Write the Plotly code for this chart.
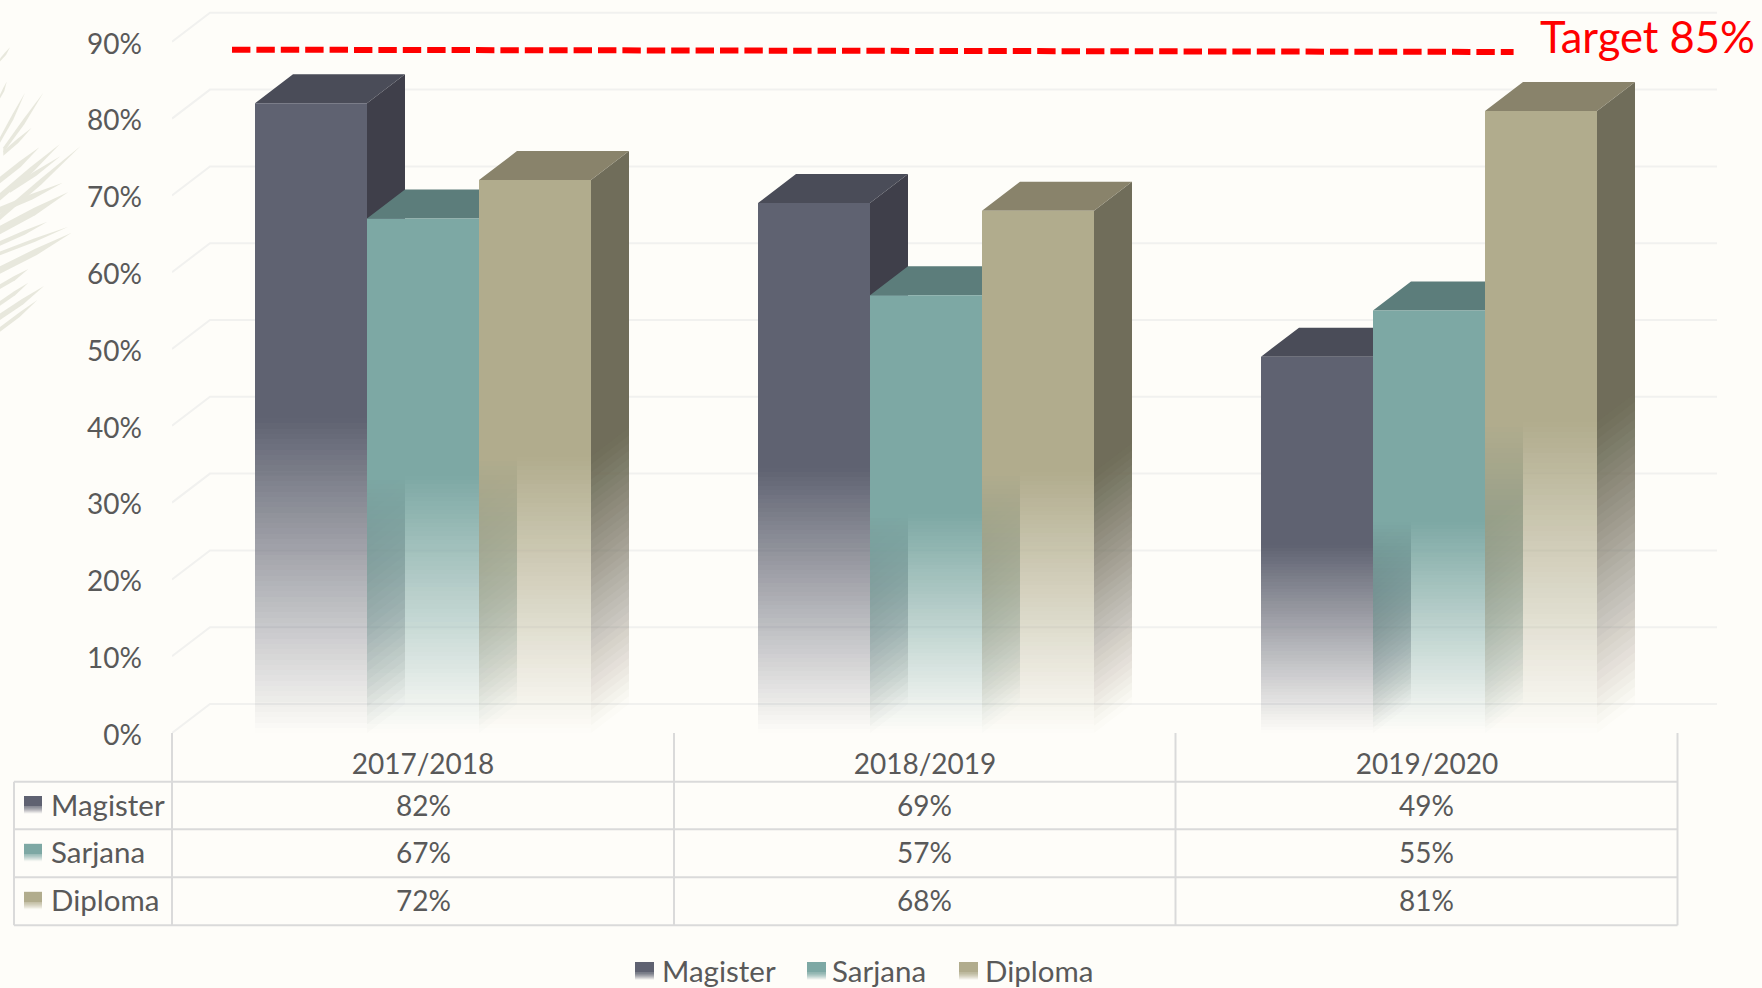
import plotly.graph_objects as go

# ---------- data ----------
categories = ["2017/2018", "2018/2019", "2019/2020"]
series_names = ["Magister", "Sarjana", "Diploma"]
magister = [82, 69, 49]
sarjana = [67, 57, 55]
diploma = [72, 68, 81]
y_ticks = [0, 10, 20, 30, 40, 50, 60, 70, 80, 90]
target_start = 85.2
target_end = 84.9
target_label = "Target 85%"

front_colors = ["#5F6271", "#7DA8A4", "#B1AC8D"]
side_colors = ["#3F3F4A", "#5F8482", "#706D5A"]
top_colors = ["#4A4C58", "#5C7D7B", "#89836B"]

BG = "#FEFDF9"
GRID = "#F1F1EF"
TABLE = "#DADADA"
TEXT = "#595959"
FONT = "Lato"
FS = 28
FS_NAME = 29.5

W, H = 1762, 988
# pixel geometry of the plot
X_LEFT, X_RIGHT, Y_ZERO, PX_PER_PCT, CAT_PX = 172.0, 1717.0, 733.0, 7.68, 502.0
PLOT_PX_H = 730.0
Y_MAX = PLOT_PX_H / PX_PER_PCT
DX = 38.0 / CAT_PX      # depth, category units
DY = 29.0 / PX_PER_PCT  # depth, percent units
BAR_W = 112.0 / CAT_PX
BAR_SPACING = 503.0 / CAT_PX
X_MIN = -0.5
X_MAX = X_MIN + (X_RIGHT - X_LEFT) / CAT_PX
FADE_FRAC = 0.5
N_FRONT = 60
N_SIDE = 36


def px(x):
    return x / W


def py(y):
    return 1 - y / H


def rgba(hexc, a):
    r, g, b = int(hexc[1:3], 16), int(hexc[3:5], 16), int(hexc[5:7], 16)
    return f"rgba({r},{g},{b},{a:.4f})"


def snap(v):
    """Value nudged onto a whole screen pixel, so neighbouring fade bands meet cleanly."""
    return round(v * PX_PER_PCT) / PX_PER_PCT


def side_layer_alpha(i):
    # side layers pile up, each one reaching from its lower edge to above the fade start
    want = (i + 0.5) / N_SIDE
    prev = (i - 0.5) / N_SIDE if i > 0 else 0.0
    return 1 - (1 - want) / (1 - prev)


fig = go.Figure()


def poly(xs, ys, color, name=None):
    fig.add_trace(go.Scatter(
        x=xs, y=ys, mode="lines", fill="toself", fillcolor=color,
        line=dict(width=0, color="rgba(0,0,0,0)", simplify=False),
        hoverinfo="skip", showlegend=False, name=name))


# ---------- skewed grid ----------
gx, gy = [], []
for t in y_ticks:
    gx += [X_MIN, X_MIN + DX, X_MAX, None]
    gy += [t, t + DY, t + DY, None]
fig.add_trace(go.Scatter(x=gx, y=gy, mode="lines", line=dict(color=GRID, width=2),
                         hoverinfo="skip", showlegend=False))

# ---------- 3D faded bars ----------
all_values = [magister, sarjana, diploma]
for s, values in enumerate(all_values):
    offset = (s - 1) * BAR_W
    lefts = [c * BAR_SPACING + offset - BAR_W / 2 for c in range(len(categories))]
    rights = [l + BAR_W for l in lefts]

    # side faces: fade pile first, solid part on top of it
    for i in range(N_SIDE):
        bx, by = [], []
        for r, v in zip(rights, values):
            st = v * FADE_FRAC
            a = st * i / N_SIDE
            bx += [r, r + DX, r + DX, r, r, None]
            by += [a, a + DY, st + 1 + DY, st + 1, a, None]
        poly(bx, by, rgba(side_colors[s], side_layer_alpha(i)))
    sx, sy = [], []
    for r, v in zip(rights, values):
        st = v * FADE_FRAC
        sx += [r, r + DX, r + DX, r, r, None]
        sy += [st, st + DY, v + DY, v, st, None]
    poly(sx, sy, side_colors[s], series_names[s] + " side")

    # top faces
    tx, ty = [], []
    for l, r, v in zip(lefts, rights, values):
        tx += [l, r, r + DX, l + DX, l, None]
        ty += [v, v, v + DY, v + DY, v, None]
    poly(tx, ty, top_colors[s], series_names[s] + " top")

    # front faces: solid part, then bands meeting on whole pixels
    fx, fy = [], []
    for l, r, v in zip(lefts, rights, values):
        st = snap(v * FADE_FRAC)
        fx += [l, r, r, l, l, None]
        fy += [st, st, v, v, st, None]
    poly(fx, fy, front_colors[s], series_names[s])
    for i in range(N_FRONT):
        bx, by = [], []
        for l, r, v in zip(lefts, rights, values):
            st = v * FADE_FRAC
            a, b = snap(st * i / N_FRONT), snap(st * (i + 1) / N_FRONT)
            if b > a:
                bx += [l, r, r, l, l, None]
                by += [a, a, b, b, a, None]
        poly(bx, by, rgba(front_colors[s], (i + 0.5) / N_FRONT))

# ---------- target line ----------
line_x0 = X_MIN + (232 - X_LEFT) / CAT_PX
line_x1 = X_MIN + (1513.6 - X_LEFT) / CAT_PX
fig.add_trace(go.Scatter(
    x=[line_x0, line_x1], y=[target_start + DY, target_end + DY], mode="lines",
    line=dict(color="#FF0000", width=6, dash="18.4px,6px"),
    hoverinfo="skip", showlegend=False, name=target_label))

shapes = []
annotations = []

# ---------- decorative palm frond (pixel path) ----------
fronds = [(0, 90, 30, 52, 6), (0, 200, 20, 155, 8), (0, 330, 75, 188, 12), (10, 360, 130, 188, 12),
          (10, 370, 95, 293, 10), (0, 450, 118, 352, 14), (0, 500, 180, 342, 16), (30, 480, 182, 378, 12),
          (0, 560, 242, 348, 14), (0, 540, 188, 458, 14), (0, 600, 205, 486, 18), (0, 640, 142, 575, 10),
          (0, 670, 205, 590, 8), (0, 720, 215, 608, 16), (0, 770, 85, 717, 10), (0, 820, 85, 758, 10),
          (0, 860, 132, 768, 14), (0, 898, 112, 810, 10)]
for x0, y0, x1, y1, w in fronds:
    w = w * 0.7
    pts = [(x0 / 3, 30 + (y0 - w) / 3), (x0 / 3 + (x1 - x0) / 6, 30 + (y0 + y1) / 6 - w / 4),
           (x1 / 3, 30 + y1 / 3), (x0 / 3 + (x1 - x0) / 6 + 1, 30 + (y0 + y1) / 6 + w / 3),
           (x0 / 3, 30 + (y0 + w) / 3)]
    path = "M " + " L ".join(f"{px(a):.5f},{py(b):.5f}" for a, b in pts) + " Z"
    shapes.append(dict(type="path", xref="paper", yref="paper", path=path, fillcolor="#E8E8DD",
                       line=dict(width=0), layer="below"))


# ---------- table ----------
def hline(x0, x1, y, color=TABLE, width=2):
    shapes.append(dict(type="line", xref="paper", yref="paper", x0=px(x0), x1=px(x1), y0=py(y), y1=py(y),
                       line=dict(color=color, width=width), layer="below"))


def vline(x, y0, y1, color=TABLE, width=2):
    shapes.append(dict(type="line", xref="paper", yref="paper", x0=px(x), x1=px(x), y0=py(y0), y1=py(y1),
                       line=dict(color=color, width=width), layer="below"))


def text(x, y, s, anchor="center", size=FS, color=TEXT):
    annotations.append(dict(xref="paper", yref="paper", x=px(x), y=py(y), text=s, showarrow=False,
                            borderpad=0, xanchor=anchor, yanchor="middle",
                            font=dict(family=FONT, size=size, color=color)))


def swatch(x0, x1, y0, y1, color):
    mid = y0 + (y1 - y0) * 0.6
    shapes.append(dict(type="rect", xref="paper", yref="paper", x0=px(x0), x1=px(x1), y0=py(y0), y1=py(mid),
                       fillcolor=color, line=dict(width=0)))
    n = 7
    for i in range(n):
        a = mid + (y1 - mid) * i / n
        b = mid + (y1 - mid) * (i + 1) / n
        shapes.append(dict(type="rect", xref="paper", yref="paper", x0=px(x0), x1=px(x1), y0=py(a), y1=py(b),
                           fillcolor=rgba(color, 1 - (i + 0.5) / n), line=dict(width=0)))


col_x = [172, 674, 1175.5, 1677.5]
row_y = [781.7, 829.3, 877.3, 925.3]
for x in col_x:
    vline(x, Y_ZERO, row_y[-1])
vline(14, row_y[0], row_y[-1])
for y in row_y:
    hline(14, col_x[-1], y)

for r, (name, values) in enumerate(zip(series_names, all_values)):
    yc = (row_y[r] + row_y[r + 1]) / 2
    text(49.5, yc - 1.5, name, anchor="left", size=FS_NAME)
    swatch(24, 42, yc - 9.5, yc + 8, front_colors[r])
    for c, v in enumerate(values):
        text((col_x[c] + col_x[c + 1]) / 2, yc - 1, f"{v}%")

# ---------- legend ----------
legend_swatch_x = [635, 807, 959]
legend_text_x = [660.5, 831, 984]
for name, color, sx, tx in zip(series_names, front_colors, legend_swatch_x, legend_text_x):
    swatch(sx, sx + 19, 962, 980, color)
    text(tx, 970.5, name, anchor="left", size=FS_NAME)

# ---------- target label ----------
text(1538.5, 35.5, target_label, anchor="left", size=43.5, color="#FF0000")

fig.update_layout(
    width=W, height=H, margin=dict(l=0, r=0, t=0, b=0, autoexpand=False),
    paper_bgcolor=BG, plot_bgcolor="rgba(0,0,0,0)", showlegend=False,
    shapes=shapes, annotations=annotations,
    xaxis=dict(domain=[px(X_LEFT), px(X_RIGHT)], range=[X_MIN, X_MAX], showgrid=False, zeroline=False,
               showline=False, ticks="", tickmode="array", tickvals=list(range(len(categories))),
               ticktext=categories, ticklabelstandoff=12, tickangle=0,
               tickfont=dict(family=FONT, size=FS, color=TEXT)),
    yaxis=dict(domain=[py(Y_ZERO), py(Y_ZERO - PLOT_PX_H)], range=[0, Y_MAX], showgrid=False,
               zeroline=False, showline=False, ticks="", tickmode="array", tickvals=y_ticks,
               ticktext=[f"{t}%" for t in y_ticks], ticklabelstandoff=29, ticklabelshift=2,
               tickfont=dict(family=FONT, size=FS, color=TEXT)),
)

fig.write_html("out.html", config=dict(displayModeBar=False),
               post_script="document.body.style.margin='0';document.documentElement.style.background='" + BG + "';")
